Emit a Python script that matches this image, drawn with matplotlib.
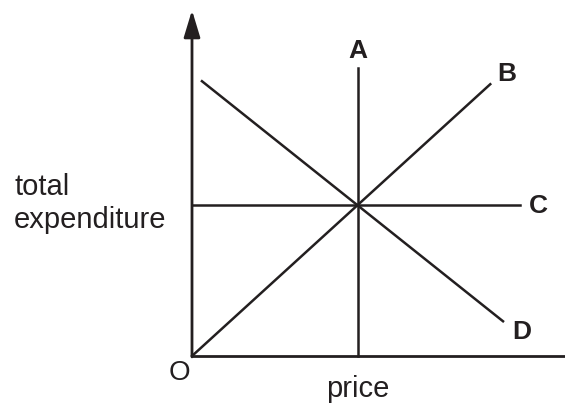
import matplotlib
matplotlib.use('Agg')
import matplotlib.pyplot as plt

plt.rcParams['font.family'] = ['Liberation Sans', 'DejaVu Sans']

# price / total expenditure, unit = the common point where all lines cross
line_names = ['A', 'B', 'C', 'D']
line_x = [[1.0, 1.0], [0.0, 1.80], [0.0, 1.98], [0.06, 1.877]]
line_y = [[0.0, 1.907], [0.0, 1.80], [1.0, 1.0], [1.82, 0.23]]
label_xy = [(1.0, 1.974), (1.90, 1.821), (2.088, 0.947), (1.99, 0.113)]

x_max = 2.25
y_max = 2.29

fig = plt.figure(figsize=(5.65, 4.04), dpi=100)
# axes sized so that 1 price unit = 165.7 px and 1 expenditure unit = 151 px
ax = fig.add_axes([192/565, 48/404, x_max*165.7/565, y_max*151/404])
ax.set_xlim(0, x_max)
ax.set_ylim(0, y_max)
ax.axis('off')

# axes drawn by hand
ax.plot([0, x_max], [0, 0], color='#231f20', lw=2.0, clip_on=False, solid_capstyle='butt')
ax.annotate('', xy=(0, y_max), xytext=(0, -0.006),
            arrowprops=dict(arrowstyle='-|>,head_length=1.65,head_width=0.5',
                            color='#231f20', lw=2.0, shrinkA=0, shrinkB=0))

for name, xs, ys, (lx, ly) in zip(line_names, line_x, line_y, label_xy):
    ax.plot(xs, ys, color='#231f20', lw=1.8, clip_on=False)
    ax.text(lx, ly, name, fontsize=19, fontweight='bold', ha='center', va='baseline',
            color='#231f20')

ax.text(-0.078, -0.159, 'O', fontsize=20, ha='center', va='baseline', color='#231f20')
ax.text(1.0, -0.27, 'price', fontsize=21, ha='center', va='baseline', color='#231f20')
ax.text(-1.074, 1.066, 'total', fontsize=21, ha='left', va='baseline', color='#231f20')
ax.text(-1.074, 0.848, 'expenditure', fontsize=21, ha='left', va='baseline', color='#231f20')

fig.savefig('out.png', dpi=100)
